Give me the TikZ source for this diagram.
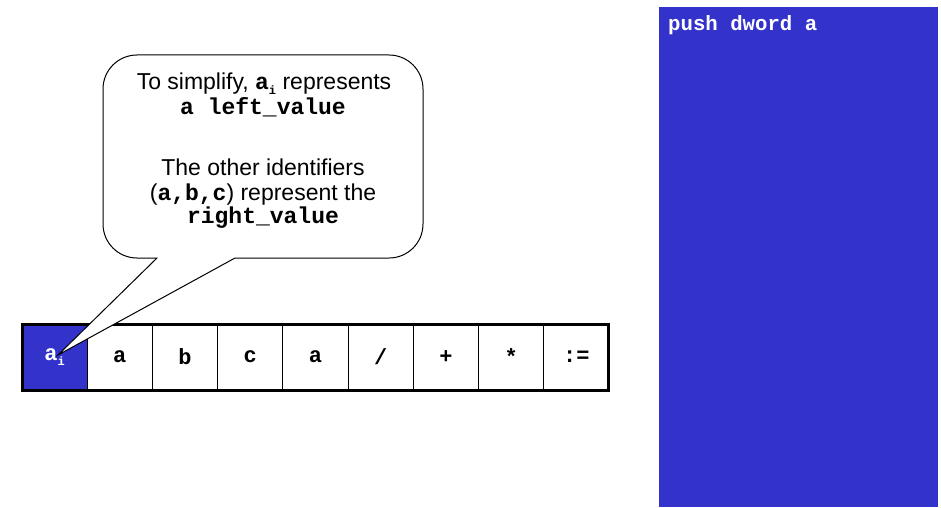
\documentclass[tikz,border=0pt]{standalone}
\usepackage{fontspec}
\setmainfont{Liberation Sans}
\setmonofont{Liberation Mono}
\definecolor{stackblue}{HTML}{3333CC}
\newcommand{\idxsub}[1]{\raisebox{-0.4ex}{\fontsize{12}{12}\selectfont #1}}

\begin{document}
\begin{tikzpicture}[x=1pt,y=1pt,
  cell/.style={draw=black, line width=1.2pt, minimum width=65.22pt,
    minimum height=66pt, inner sep=0pt, outer sep=0pt, anchor=west,
    font=\fontsize{22}{22}\selectfont\ttfamily\bfseries},
  noteline/.style={anchor=base, inner sep=0pt, font=\fontsize{23}{25}\selectfont},
  calloutshape/.style={draw=black, line width=1pt, fill=white},
  panel/.style={fill=stackblue, draw=none},
  paneltext/.style={anchor=base west, inner sep=0pt, text=white,
    font=\fontsize{20.7}{21}\selectfont\ttfamily\bfseries}]
\useasboundingbox (0,0) rectangle (941,507);

% expression array
\node[cell, fill=stackblue, text=white] (c1) at (22,150) {a\idxsub{i}};
\node[cell] (c2) at (c1.east) {a};
\node[cell] (c3) at (c2.east) {b};
\node[cell] (c4) at (c3.east) {c};
\node[cell] (c5) at (c4.east) {a};
\node[cell] (c6) at (c5.east) {/};
\node[cell] (c7) at (c6.east) {+};
\node[cell] (c8) at (c7.east) {*};
\node[cell] (c9) at (c8.east) {:=};
\draw[line width=3pt] (c1.north west) rectangle (c9.south east);

% callout bubble pointing at the first cell
\coordinate (tip) at (58,152);
\draw[calloutshape] (157,249) -- (137,249)
  arc[start angle=270, end angle=180, radius=34] -- (103,418)
  arc[start angle=180, end angle=90, radius=34] -- (389,452)
  arc[start angle=90, end angle=0, radius=34] -- (423,283)
  arc[start angle=0, end angle=-90, radius=34] -- (235,249)
  -- (tip) -- cycle;

\node[noteline] (l1) at (264,417) {To simplify, \texttt{\bfseries a\idxsub{i}} represents};
\node[noteline] (l2) at (263,392) {\ttfamily\bfseries a left\_value};
\node[noteline] (l3) at (263,332) {The other identifiers};
\node[noteline] (l4) at (263,307) {(\texttt{\bfseries a,b,c}) represent the};
\node[noteline] (l5) at (263,284) {\ttfamily\bfseries right\_value};

% stack panel
\fill[panel] (659,0) rectangle (938,500);
\node[paneltext] (push) at (668,476) {push dword a};
\end{tikzpicture}
\end{document}
